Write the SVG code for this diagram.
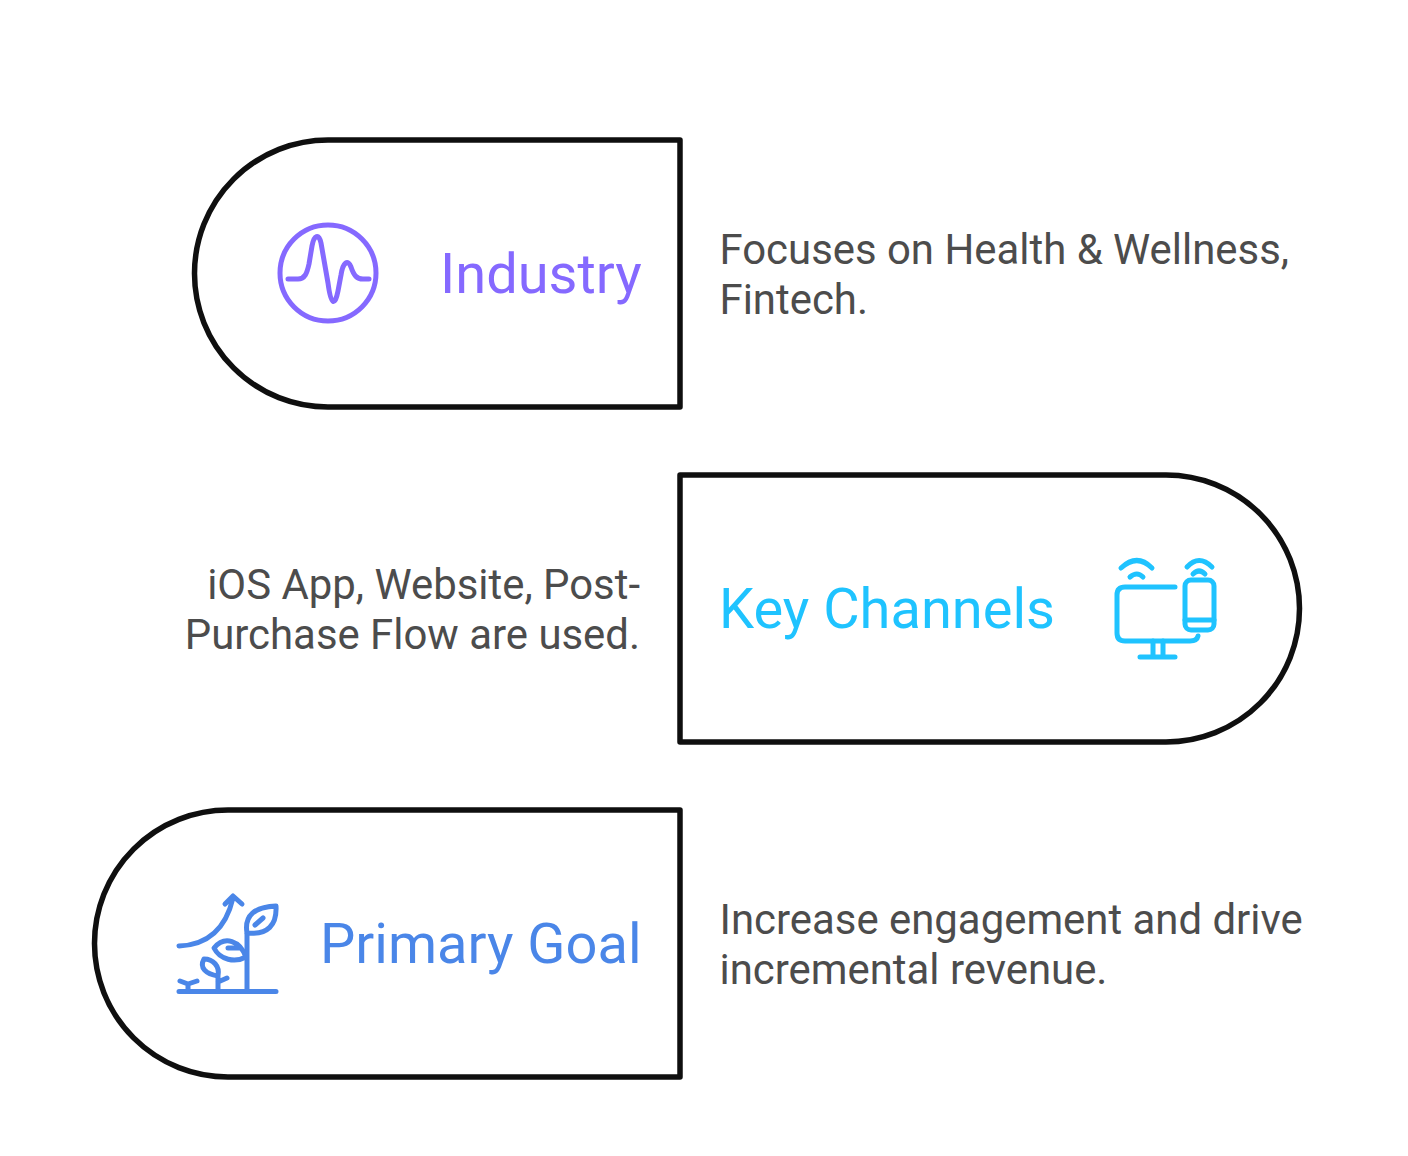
<svg xmlns="http://www.w3.org/2000/svg" width="1408" height="1156" viewBox="0 0 1408 1156">
<style>
.box{fill:#fff;stroke:#0f0f0f;stroke-width:5.5;stroke-linejoin:round}
.ic{fill:none;stroke-width:5;stroke-linecap:round;stroke-linejoin:round}
.t{font-family:Roboto,"Liberation Sans",sans-serif}
.title{font-size:56px}
.desc{font-size:41.9px;fill:#4c4c4c}
</style>
<rect width="1408" height="1156" fill="#fff"/>
<g id="node-industry">
<path class="box" d="M680 140H328A133.5 133.5 0 0 0 328 407H680Z"/>
<g class="ic" stroke="#8569ff">
<circle cx="328" cy="273" r="48"/>
<path d="M288 279H298C305 279 307 273 309 264L312 246C314 235 319 233 321 243L328 283C331 306 335 306 338 291L341 275C343 262 348 259 351 267C354 276 357 279 363 279H369"/>
</g>
<text class="t title" x="440" y="293" fill="#8569ff">Industry</text>
</g>
<g id="node-channels">
<path class="box" d="M680 475H1166A133.5 133.5 0 0 1 1166 742H680Z"/>
<g class="ic" stroke="#1fc3ff">
<path d="M1175 587H1125Q1117 587 1117 595V633Q1117 641 1125 641H1190Q1197 641 1198 636"/>
<path d="M1153 641V657M1163 641V657M1140 657H1175"/>
<rect x="1185" y="580" width="29" height="50" rx="6"/>
<path d="M1185 620H1214"/>
<path d="M1121 568Q1137 553 1152 568M1130 577Q1137 571 1143 577"/>
<path d="M1187 567Q1199 554 1212 567M1193 574Q1199 568 1205 574"/>
</g>
<text class="t title" x="719" y="628" fill="#1fc3ff">Key Channels</text>
</g>
<g id="node-goal">
<path class="box" d="M680 810H228A133.5 133.5 0 0 0 228 1077H680Z"/>
<g class="ic" stroke="#4a86e8">
<path d="M179 991.500H276M247 991V934"/>
<path d="M179 946C205 945 225 932 233 898M225 904L233 896L242 904"/>
<path d="M247 933C244 915 255 907 276 906C277 925 268 935 247 933ZM255 925L263 918"/>
<path d="M246 957C240 941 225 935 214 948C220 960 235 963 246 957ZM228 948H240"/>
<path d="M218 991V976C206 974 199 968 204 959C213 959 220 966 218 976M218 982L227 978"/>
<path d="M188 991V984M180 981L188 984L197 981"/>
</g>
<text class="t title" x="320" y="963" fill="#4a86e8">Primary Goal</text>
</g>
<g id="desc-industry"><text class="t desc" x="719.5" y="264">Focuses on Health &amp; Wellness,</text><text class="t desc" x="719.5" y="314">Fintech.</text></g>
<g id="desc-channels"><text class="t desc" x="640" y="599" text-anchor="end">iOS App, Website, Post-</text><text class="t desc" x="640" y="649" text-anchor="end">Purchase Flow are used.</text></g>
<g id="desc-goal"><text class="t desc" x="719.5" y="934">Increase engagement and drive</text><text class="t desc" x="719.5" y="984">incremental revenue.</text></g>
<g id="connectors"/>
</svg>
